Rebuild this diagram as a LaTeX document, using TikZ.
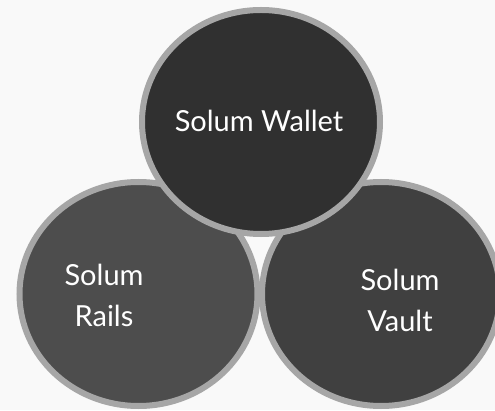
\documentclass[tikz,border=0pt]{standalone}
\usepackage{fontspec}
\setmainfont{Lato}
\usepackage{tikz}
\usetikzlibrary{calc, shapes.geometric, positioning}
\definecolor{bgcol}{HTML}{F9F9F9}
\definecolor{rimcol}{HTML}{A6A6A6}
\definecolor{walletcol}{HTML}{303030}
\definecolor{railscol}{HTML}{4D4D4D}
\definecolor{vaultcol}{HTML}{404040}
\tikzset{ring/.style={ellipse, draw=rimcol, line width=6pt, minimum width=238pt, minimum height=224pt, inner sep=0pt},
  lbl/.style={text=white, align=center, font=\fontsize{29}{41}\selectfont}}

\begin{document}
\begin{tikzpicture}[x=1pt, y=1pt]%Solum
\fill [bgcol] (0,0) rectangle (495,410);
\useasboundingbox (0,0) rectangle (495,410);
\node[ring, fill=railscol] (rails) at (138.5,116) {};
\node[ring, fill=vaultcol] (vault) at (381,116) {};
\node[ring, fill=walletcol] (wallet) at (261,288) {};
%labels
\node[lbl] (walletlbl) at (259,289) {Solum Wallet};
\node[lbl] (railslbl) at (104,115) {Solum\\Rails};
\node[lbl] (vaultlbl) at (400,110) {Solum\\Vault};
\end{tikzpicture}
\end{document}
